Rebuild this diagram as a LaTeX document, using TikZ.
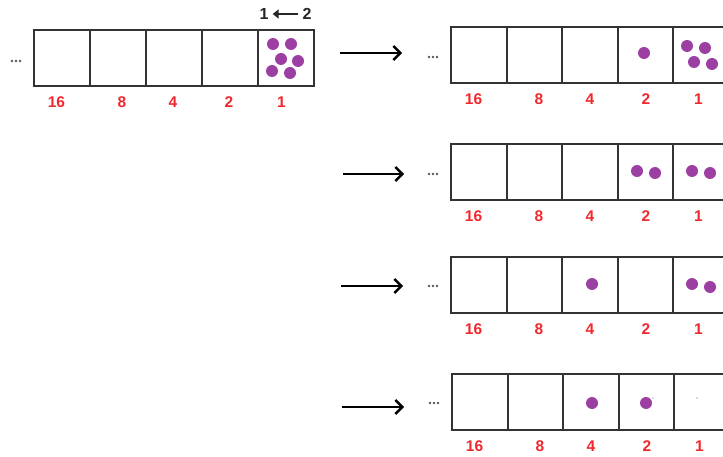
\documentclass[tikz,border=0pt]{standalone}
\usepackage{fontspec}
\setmainfont{Liberation Sans}
\usetikzlibrary{arrows.meta,calc}
\definecolor{cellline}{HTML}{333333}
\definecolor{bead}{HTML}{9B3FA3}
\definecolor{placered}{HTML}{F0282D}
\definecolor{ellgray}{HTML}{555566}
\tikzset{
  cell/.style={draw=cellline, line width=1.9pt, minimum width=#1, minimum height=56pt,
    inner sep=0pt, outer sep=0pt, anchor=north west},
  placelabel/.style={text=placered, font=\bfseries\fontsize{15.5}{16}\selectfont, inner sep=0pt},
  swaplabel/.style={text=black!85, font=\bfseries\fontsize{16}{16}\selectfont, inner sep=0pt},
  beadstyle/.style={fill=bead, draw=none},
  shiftarrow/.style={draw=black, line width=2.4pt, -{Straight Barb[length=7pt,width=14pt,line width=2.4pt]}},
  swaparrow/.style={draw=black!85, line width=2.2pt, -{Triangle[length=6pt,width=9pt]}},
  ell/.style={fill=ellgray, draw=none},
}
% one register of five cells: name, left x, top y, cell width
\newcommand{\registerrow}[4]{%
  \foreach \i/\lab [count=\k from 0] in {1/16,2/8,3/4,4/2,5/1} {
    \node[cell=#4] (#1\i) at ({#2+\k*#4},#3) {};
  }
  \foreach \lab/\dx [count=\j] in {16/22.5,8/88,4/139,2/195,1/247.5} {
    \node[placelabel] (#1l\j) at ({#2+\dx},{#3+72}) {\lab};
  }
}
\newcommand{\ellipsis}[3]{% name, x, y
  \foreach \e in {0,1,2} \fill[ell] ({#2+\e*4},#3) circle (1.3);
  \coordinate (#1) at (#2,#3);
}
\begin{document}
\begin{tikzpicture}[x=1pt,y=-1pt]
\useasboundingbox (0,0) rectangle (723,457);

% starting register
\registerrow{a}{34}{30}{56}
\ellipsis{adots}{12}{61}
\node[swaplabel] (swapone) at (264,14) {1};
\node[swaplabel] (swaptwo) at (307,14) {2};
\draw[swaparrow] ([xshift=-4pt]swaptwo.west) -- ([xshift=4pt]swapone.east);
\foreach \p [count=\n] in {(273,44),(291,44),(281,59),(298,61),(272,71),(290,73)}
  \fill[beadstyle] \p circle (6);

% register after first carry
\registerrow{b}{451}{27}{55.6}
\ellipsis{bdots}{429}{57}
\fill[beadstyle] (644,53) circle (6);
\foreach \p in {(687,46),(705,48),(694,62),(712,64)}
  \fill[beadstyle] \p circle (6);

% register with two beads in places 2 and 1
\registerrow{c}{451}{144}{55.6}
\ellipsis{cdots}{429}{174}
\foreach \p in {(637,171),(655,173),(692,171),(710,173)}
  \fill[beadstyle] \p circle (6);

% register with beads in places 4 and 1
\registerrow{d}{451}{257}{55.6}
\ellipsis{ddots}{429}{286}
\foreach \p in {(592,284),(692,284),(710,287)}
  \fill[beadstyle] \p circle (6);

% final register
\registerrow{e}{452}{374}{55.6}
\ellipsis{edots}{430}{403}
\foreach \p in {(592,403),(646,403)}
  \fill[beadstyle] \p circle (6);
\fill[gray!60] (653,398) circle (0.9);
\fill[gray!60] (697,398) circle (0.9);

% transition arrows
\coordinate (t1s) at (340,53);  \coordinate (t1e) at (402,53);
\coordinate (t2s) at (343,174); \coordinate (t2e) at (404,174);
\coordinate (t3s) at (341,286); \coordinate (t3e) at (403,286);
\coordinate (t4s) at (342,407); \coordinate (t4e) at (404,407);
\draw[shiftarrow] (t1s) -- (t1e);
\draw[shiftarrow] (t2s) -- (t2e);
\draw[shiftarrow] (t3s) -- (t3e);
\draw[shiftarrow] (t4s) -- (t4e);
\end{tikzpicture}
\end{document}
